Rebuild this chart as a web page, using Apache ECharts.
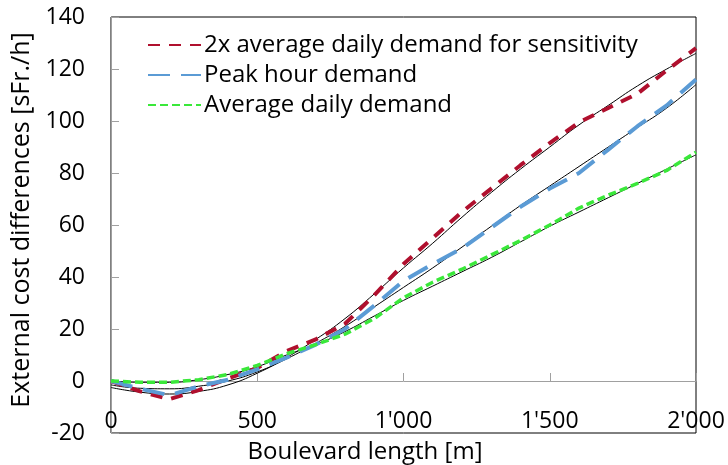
<!DOCTYPE html>
<html>
<head>
<meta charset="utf-8">
<script src="https://cdn.jsdelivr.net/npm/echarts@6/dist/echarts.min.js"></script>
<style>
  html, body { margin: 0; padding: 0; background: #fff; }
  #chart { width: 728px; height: 465px; }
</style>
</head>
<body>
<div id="chart"></div>
<script>
// boulevard length [m]
var lengths = [0, 100, 200, 300, 400, 500, 600, 700, 800, 900, 1000,
               1100, 1200, 1300, 1400, 1500, 1600, 1700, 1800, 1900, 2000];

// external cost differences [sFr./h]
var doubleDemand = [0, -4, -7, -3.5, 1, 5, 11.5, 16, 22, 33, 45,
                    55, 65, 74, 83, 91.5, 99.5, 105, 110.5, 119.5, 128];
var peakDemand = [0, -3, -5.5, -2, 0.5, 4.5, 9, 14, 20, 29, 38.5,
                  45, 51, 59, 67, 74, 80, 89, 98, 106, 116];
var avgDemand = [0, -0.5, -0.5, 0.5, 2.5, 6, 10.5, 14, 18, 24, 32,
                 38, 43, 48.5, 54, 60, 66.5, 71.5, 76, 81, 88];

// trend lines (thin black)
var doubleFit = [-2.5, -4.3, -5, -4, -1.5, 3, 9, 16, 24, 33.5, 43.5,
                 53, 63, 72.5, 81.5, 90, 98.5, 106, 113.5, 120, 126];
var peakFit = [-1.5, -2.8, -3, -2, 0, 3.5, 8.5, 14.5, 21, 28.5, 36,
               43.5, 51.5, 59.5, 67.5, 75, 82.5, 90, 97.5, 105, 114];
var avgFit = [0, -0.5, -0.5, 0.5, 2.5, 5.5, 10, 14, 19, 25, 31,
              36.5, 42, 47.5, 53.5, 59.5, 65, 70.5, 76, 81.5, 87];

var seriesNames = ['2x average daily demand for sensitivity', 'Peak hour demand', 'Average daily demand'];

function pairs(ys) {
    return lengths.map(function (x, i) { return [x, ys[i]]; });
}

var font = 'Open Sans';

var myChart = echarts.init(document.getElementById('chart'));

var option = {
    animation: false,
    textStyle: { fontFamily: font },
    grid: {
        left: 111, right: 32, top: 17, bottom: 32,
        outerBoundsMode: 'none',
        show: true, borderColor: '#000', borderWidth: 1
    },
    legend: {
        data: seriesNames,
        orient: 'vertical',
        left: 142, top: 25,
        itemWidth: 53, itemHeight: 10, itemGap: 0,
        itemStyle: { opacity: 0 },
        textStyle: { fontFamily: font, fontSize: 24, lineHeight: 30, color: '#000', padding: [0, 0, 0, -2] }
    },
    xAxis: {
        type: 'value',
        min: 0, max: 2000, interval: 500,
        axisLine: { onZero: true, lineStyle: { color: '#a0a0a0', width: 1 } },
        axisTick: { inside: true, length: 8, lineStyle: { color: '#a0a0a0' } },
        splitLine: { show: false },
        axisLabel: {
            margin: -23, fontFamily: font, fontSize: 23, color: '#000',
            formatter: function (v) {
                return String(v).replace(/\B(?=(\d{3})+(?!\d))/g, "'");
            }
        },
        name: 'Boulevard length [m]',
        nameLocation: 'middle', nameGap: 7,
        nameTextStyle: { fontFamily: font, fontSize: 24, color: '#000', padding: [0, 77, 0, 0] }
    },
    yAxis: {
        type: 'value',
        min: -20, max: 140, interval: 20,
        axisLine: { show: true, lineStyle: { color: '#a0a0a0', width: 1 } },
        axisTick: { show: true, inside: true, length: 8, lineStyle: { color: '#a0a0a0' } },
        splitLine: { show: false },
        axisLabel: { margin: 26, fontFamily: font, fontSize: 23, color: '#000' },
        name: 'External cost differences [sFr./h]',
        nameLocation: 'middle', nameGap: 74,
        nameTextStyle: { fontFamily: font, fontSize: 25, color: '#000', padding: [0, 0, 0, 10] }
    },
    series: [
        {
            name: 'fit 2x', type: 'line', data: pairs(doubleFit), smooth: true,
            showSymbol: false, z: 1,
            lineStyle: { color: '#000', width: 1 }
        },
        {
            name: 'fit peak', type: 'line', data: pairs(peakFit), smooth: true,
            showSymbol: false, z: 1,
            lineStyle: { color: '#000', width: 1 }
        },
        {
            name: 'fit average', type: 'line', data: pairs(avgFit), smooth: true,
            showSymbol: false, z: 1,
            lineStyle: { color: '#000', width: 1 }
        },
        {
            name: seriesNames[0], type: 'line', data: pairs(doubleDemand),
            symbol: 'none', z: 2,
            itemStyle: { color: '#B0102E' },
            lineStyle: { color: '#B0102E', width: 4, type: [12, 9] }
        },
        {
            name: seriesNames[1], type: 'line', data: pairs(peakDemand),
            symbol: 'none', z: 2,
            itemStyle: { color: '#5B9BD5' },
            lineStyle: { color: '#5B9BD5', width: 4, type: [22, 11] }
        },
        {
            name: seriesNames[2], type: 'line', data: pairs(avgDemand),
            symbol: 'none', z: 2,
            itemStyle: { color: '#3AE83A' },
            lineStyle: { color: '#3AE83A', width: 3.5, type: [8, 4] }
        }
    ]
};

myChart.setOption(option);

window.addEventListener("resize", function () {
    myChart.resize();
});
</script>
</body>
</html>
